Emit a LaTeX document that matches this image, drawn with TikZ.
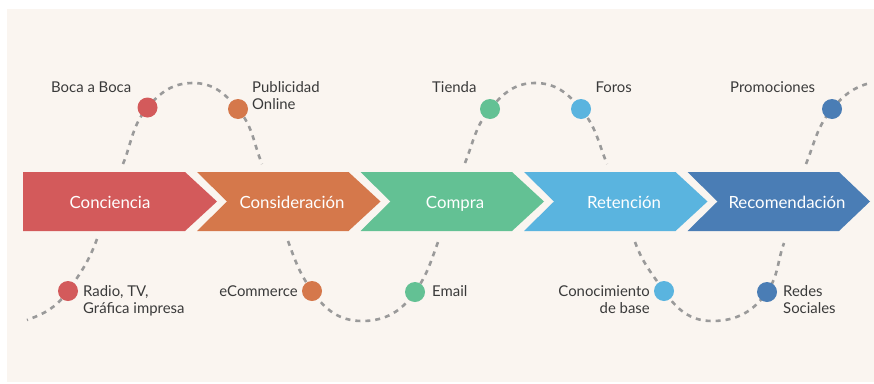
\documentclass[tikz,border=0pt]{standalone}
\usepackage{fontspec}
\setmainfont{Lato}
\usepackage{tikz}
\usepackage{color}

\definecolor{bgcream}{HTML}{FAF5F0}
\definecolor{cRed}{HTML}{D35A5B}
\definecolor{cOrange}{HTML}{D5784B}
\definecolor{cGreen}{HTML}{63C194}
\definecolor{cBlue}{HTML}{5AB4DF}
\definecolor{cNavy}{HTML}{4A7DB5}
\definecolor{txtgray}{HTML}{3A3A3A}
\definecolor{wavegray}{HTML}{9A9A9A}

\pgfdeclarelayer{bg}
\pgfdeclarelayer{waves}
\pgfsetlayers{bg,waves,main}

\begin{document}
\begin{tikzpicture}[x=1pt, y=1pt,
		stage/.style={text=white, anchor=base, inner sep=0pt, font=\fontsize{16.8}{20}\selectfont},
		dot/.style={circle, inner sep=0pt, minimum size=20pt},
		lbl/.style={text=txtgray, inner sep=0pt, font=\fontsize{14.9}{17.3}\selectfont},
		wave/.style={draw=wavegray, line width=2.6pt, dash pattern=on 5pt off 5pt}]
				\useasboundingbox (0,0) rectangle (874,-383);
				\begin{pgfonlayer}{bg}
				\fill[bgcream] (7,-9) rectangle (874,-382);
				\fill[cRed] (23,-172) -- (185,-172) -- (217,-201.5) -- (185,-231) -- (23,-231) -- cycle;
				\fill[cOrange] (197,-172) -- (348.5,-172) -- (380.5,-201.5) -- (348.5,-231) -- (197,-231) -- (227,-201.5) -- cycle;
				\fill[cGreen] (360.5,-172) -- (512,-172) -- (544,-201.5) -- (512,-231) -- (360.5,-231) -- (390.5,-201.5) -- cycle;
				\fill[cBlue] (524,-172) -- (675.5,-172) -- (707.5,-201.5) -- (675.5,-231) -- (524,-231) -- (554,-201.5) -- cycle;
				\fill[cNavy] (687.5,-172) -- (839,-172) -- (870,-201.5) -- (839,-231) -- (687.5,-231) -- (717.5,-201.5) -- cycle;
				\end{pgfonlayer}
				\node[stage] (conciencia)at(110,-208) {Conciencia};
				\node[stage] (consideracion)at(292,-208) {Consideración};
				\node[stage] (compra)at(455,-208) {Compra};
				\node[stage] (retencion)at(624,-208) {Retención};
				\node[stage] (recomendacion)at(787,-208) {Recomendación};
				% touch points above the band
				\node[dot, fill=cRed] (boca)at(147.5,-107.5) {};
				\node[dot, fill=cOrange] (publi)at(238,-109) {};
				\node[dot, fill=cGreen] (tienda)at(490,-109) {};
				\node[dot, fill=cBlue] (foros)at(581,-109) {};
				\node[dot, fill=cNavy] (promo)at(832,-109) {};
				% touch points below the band
				\node[dot, fill=cRed] (radio)at(68,-291) {};
				\node[dot, fill=cOrange] (ecom)at(312,-291) {};
				\node[dot, fill=cGreen] (email)at(415,-292) {};
				\node[dot, fill=cBlue] (conoc)at(664,-291) {};
				\node[dot, fill=cNavy] (redes)at(767,-292) {};
				\node[lbl, anchor=base west] (bocaL)at(51,-92) {Boca a Boca};
				\node[lbl, anchor=base west, align=left] (publiL)at(252,-109.3) {Publicidad\\Online};
				\node[lbl, anchor=base west] (tiendaL)at(432,-92) {Tienda};
				\node[lbl, anchor=base east] (forosL)at(632,-92) {Foros};
				\node[lbl, anchor=base west] (promoL)at(730,-92) {Promociones};
				\node[lbl, anchor=base west, align=left] (radioL)at(83,-313.3) {Radio, TV,\\Gráfica impresa};
				\node[lbl, anchor=base east] (ecomL)at(298,-296) {eCommerce};
				\node[lbl, anchor=base west] (emailL)at(432,-296) {Email};
				\node[lbl, anchor=base east, align=right] (conocL)at(650,-313.3) {Conocimiento\\de base};
				\node[lbl, anchor=base west, align=left] (redesL)at(783,-313.3) {Redes\\Sociales};
				\coordinate (top1s)at(123,-164);
				\coordinate (top1p)at(193,-83);
				\coordinate (top1e)at(262,-164);
				\coordinate (top2s)at(465,-163);
				\coordinate (top2p)at(535,-83);
				\coordinate (top2e)at(607,-164);
				\coordinate (top3s)at(806,-164);
				\coordinate (top3e)at(870,-83);
				\coordinate (bot1s)at(97,-239);
				\coordinate (bot1e)at(27,-320);
				\coordinate (bot2s)at(288,-241);
				\coordinate (bot2p)at(362,-321);
				\coordinate (bot2e)at(438,-242);
				\coordinate (bot3s)at(635,-242);
				\coordinate (bot3p)at(712,-321);
				\coordinate (bot3e)at(784,-243);
				\begin{pgfonlayer}{waves}
				\draw[wave] (top1s) to[out=68,in=-130] (boca.center) to[out=50,in=180] (top1p) to[out=0,in=130] (publi.center) to[out=-50,in=112] (top1e);
				\draw[wave] (top2s) to[out=68,in=-130] (tienda.center) to[out=50,in=180] (top2p) to[out=0,in=130] (foros.center) to[out=-50,in=112] (top2e);
				\draw[wave] (top3s) to[out=68,in=-130] (promo.center) to[out=50,in=195] (top3e);
				\draw[wave] (bot1s) to[out=-110,in=55] (radio.center) to[out=-125,in=20] (bot1e);
				\draw[wave] (bot2s) to[out=-70,in=125] (ecom.center) to[out=-55,in=180] (bot2p) to[out=0,in=-125] (email.center) to[out=55,in=-110] (bot2e);
				\draw[wave] (bot3s) to[out=-70,in=125] (conoc.center) to[out=-55,in=180] (bot3p) to[out=0,in=-125] (redes.center) to[out=55,in=-110] (bot3e);
				\end{pgfonlayer}
			\end{tikzpicture}
\end{document}
